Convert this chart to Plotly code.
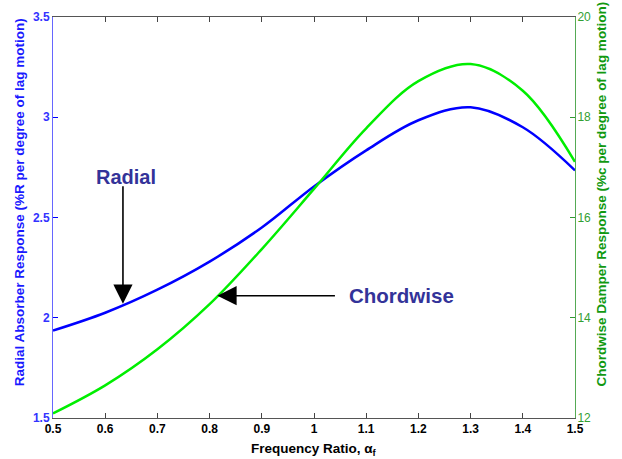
import plotly.graph_objects as go

# Frequency ratio samples
freq_ratio = [0.5, 0.6, 0.7, 0.8, 0.9, 1.0, 1.1, 1.2, 1.3, 1.4, 1.5]
# Radial absorber response (%R per degree of lag motion)
radial = [1.936, 2.025, 2.14, 2.28, 2.45, 2.655, 2.835, 2.985, 3.05, 2.95, 2.735]
# Chordwise damper response (%c per degree of lag motion)
chordwise = [12.09, 12.65, 13.37, 14.27, 15.37, 16.57, 17.78, 18.72, 19.06, 18.53, 17.11]

x_ticks = [0.5, 0.6, 0.7, 0.8, 0.9, 1.0, 1.1, 1.2, 1.3, 1.4, 1.5]
left_ticks = [1.5, 2, 2.5, 3, 3.5]
right_ticks = [12, 14, 16, 18, 20]

FONT = "Arial, Liberation Sans, sans-serif"
BLUE = "#0000ff"
GREEN = "#00ee00"
LABEL = "#333399"

fig = go.Figure()
fig.add_trace(go.Scatter(x=freq_ratio, y=radial, mode="lines", name="Radial",
                         line=dict(color=BLUE, width=2.5, shape="spline", smoothing=1.0),
                         yaxis="y"))
fig.add_trace(go.Scatter(x=freq_ratio, y=chordwise, mode="lines", name="Chordwise",
                         line=dict(color=GREEN, width=2.5, shape="spline", smoothing=1.0),
                         yaxis="y2"))

fig.update_layout(
    width=622, height=459,
    margin=dict(l=53, r=47, t=10, b=41),
    paper_bgcolor="white", plot_bgcolor="white",
    showlegend=False,
    font=dict(family=FONT, size=12, color="black"),
    xaxis=dict(range=[0.5, 1.5], tickvals=x_ticks, ticks="inside", ticklen=5,
               tickcolor="#444", showline=True, linecolor="#555", linewidth=1,
               mirror="ticks", showgrid=False, zeroline=False,
               tickfont=dict(family=FONT, size=12, color="black", weight="bold")),
    yaxis=dict(range=[1.5, 3.5], tickvals=left_ticks, ticks="inside", ticklen=5,
               tickcolor=BLUE, showline=True, linecolor="#6666ff", linewidth=1,
               showgrid=False, zeroline=False,
               tickfont=dict(family=FONT, size=12, color="#3333ff", weight="bold")),
    yaxis2=dict(range=[12, 20], tickvals=right_ticks, ticks="inside", ticklen=5,
                tickcolor="#339933", showline=True, linecolor="#55aa55", linewidth=1,
                overlaying="y", side="right", showgrid=False, zeroline=False,
                ticklabelstandoff=-1,
                tickfont=dict(family=FONT, size=12, color="#33a033")),
)

# Axis titles
fig.add_annotation(xref="paper", yref="paper", x=0.5, y=-0.052,
                   xanchor="center", yanchor="top",
                   text="Frequency Ratio, α<sub>f</sub>", showarrow=False,
                   font=dict(family=FONT, size=13.5, color="black", weight="bold"))
fig.add_annotation(xref="paper", yref="paper", x=-0.0626, y=0.539, textangle=-90,
                   xanchor="center", yanchor="middle",
                   text="Radial Absorber Response (%R per degree of lag motion)",
                   showarrow=False,
                   font=dict(family=FONT, size=13.5, color="#1a1aff", weight="bold"))
fig.add_annotation(xref="paper", yref="paper", x=1.051, y=0.559, textangle=-90,
                   xanchor="center", yanchor="middle",
                   text="Chordwise Damper Response (%c per degree of lag motion)",
                   showarrow=False,
                   font=dict(family=FONT, size=13.5, color="#119911", weight="bold"))

# Curve labels with pointers
fig.add_annotation(x=0.64, y=2.70, xref="x", yref="y", text="Radial", showarrow=False,
                   font=dict(family=FONT, size=20, color=LABEL, weight="bold"))
fig.add_annotation(x=0.634, y=2.07, xref="x", yref="y", text="", showarrow=True,
                   ax=0, ay=-119, arrowhead=2, arrowsize=2.4, arrowwidth=1.6,
                   arrowcolor="black", standoff=0)
fig.add_annotation(x=1.0635, y=14.44, xref="x", yref="y2", text="Chordwise", showarrow=False,
                   xanchor="left",
                   font=dict(family=FONT, size=20.5, color=LABEL, weight="bold"))
fig.add_annotation(x=0.815, y=14.44, xref="x", yref="y2", text="", showarrow=True,
                   ax=119, ay=0, arrowhead=2, arrowsize=2.4, arrowwidth=1.6,
                   arrowcolor="black", standoff=0)

fig.write_html("out.html")
